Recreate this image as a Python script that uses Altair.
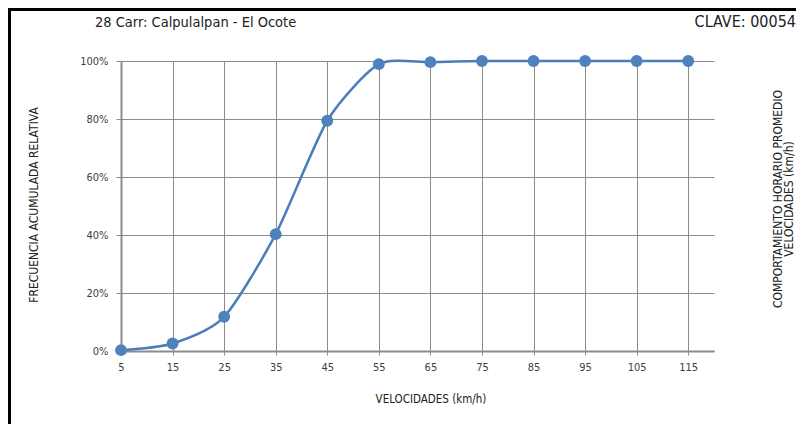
import altair as alt
import pandas as pd

# Data
speeds = [5, 15, 25, 35, 45, 55, 65, 75, 85, 95, 105, 115]
cum_freq = [0.003, 0.026, 0.118, 0.403, 0.794, 0.989, 0.996, 1.0, 1.0, 1.0, 1.0, 1.0]
x_ticks = [5, 15, 25, 35, 45, 55, 65, 75, 85, 95, 105, 115]
y_ticks = [0, 0.2, 0.4, 0.6, 0.8, 1.0]

title_text = "28  Carr: Calpulalpan - El Ocote"
clave_text = "CLAVE: 00054"
y_title = "FRECUENCIA  ACUMULADA RELATIVA"
x_title = "VELOCIDADES  (km/h)"
right_title_1 = "COMPORTAMIENTO  HORARIO PROMEDIO"
right_title_2 = "VELOCIDADES  (km/h)"

FONT = "DejaVu Sans Condensed, Liberation Sans Narrow, sans-serif"
GRID = "#8c8c8c"
BLUE = "#4a7ebb"

df = pd.DataFrame({"speed": speeds, "freq": cum_freq})

x_enc = alt.X("speed:Q",
              scale=alt.Scale(domain=[5, 120], nice=False, zero=False),
              axis=alt.Axis(values=x_ticks, title=None, grid=True, gridColor=GRID,
                            gridWidth=1, domainColor=GRID, domainWidth=2,
                            tickColor=GRID, tickSize=4, labelPadding=6,
                            labelFontSize=11, labelFont=FONT, labelColor="#404040",
                            labelFlush=False))
y_enc = alt.Y("freq:Q",
              scale=alt.Scale(domain=[0, 1], nice=False),
              axis=alt.Axis(values=y_ticks, format=".0%", title=None, grid=True,
                            gridColor=GRID, gridWidth=1, domainColor=GRID, domainWidth=2,
                            tickColor=GRID, tickSize=5, labelPadding=8,
                            labelFontSize=11, labelFont=FONT, labelColor="#404040"))

line = alt.Chart(df).mark_line(interpolate="cardinal", tension=0.3, color=BLUE,
                               strokeWidth=2.5).encode(x=x_enc, y=y_enc)
points = alt.Chart(df).mark_circle(size=140, color="#4f81bd", opacity=1).encode(
    x="speed:Q", y="freq:Q")


def label(text, x, y, size, angle=0, align="center", color="#222222"):
    d = pd.DataFrame({"t": [text]})
    return alt.Chart(d).mark_text(
        align=align, baseline="middle", angle=angle, fontSize=size, font=FONT,
        color=color).encode(x=alt.value(x), y=alt.value(y), text="t:N")


texts = [
    label(title_text, -26, -38, 14.5, align="left"),
    label(clave_text, 675, -39, 16, align="right"),
    label(y_title, -87, 144, 12, angle=270),
    label(x_title, 310, 339, 11.5),
    label(right_title_1, 657, 138, 12, angle=270),
    label(right_title_2, 668, 138, 12, angle=270),
]

frame_df = pd.DataFrame({"k": [0]})
top_border = alt.Chart(frame_df).mark_rule(color="black", strokeWidth=3).encode(
    x=alt.value(-113), x2=alt.value(700), y=alt.value(-51.5))
left_border = alt.Chart(frame_df).mark_rule(color="black", strokeWidth=3).encode(
    x=alt.value(-111.5), y=alt.value(-53), y2=alt.value(380))

chart = alt.layer(line, points, top_border, left_border, *texts).properties(
    width=593, height=290,
    padding={"left": 113, "top": 53, "right": 82, "bottom": 73},
    autosize=alt.AutoSizeParams(type="none"),
    background="white",
).configure_view(stroke=None)

chart.save("out.html", embed_options={"renderer": "svg", "actions": False})
